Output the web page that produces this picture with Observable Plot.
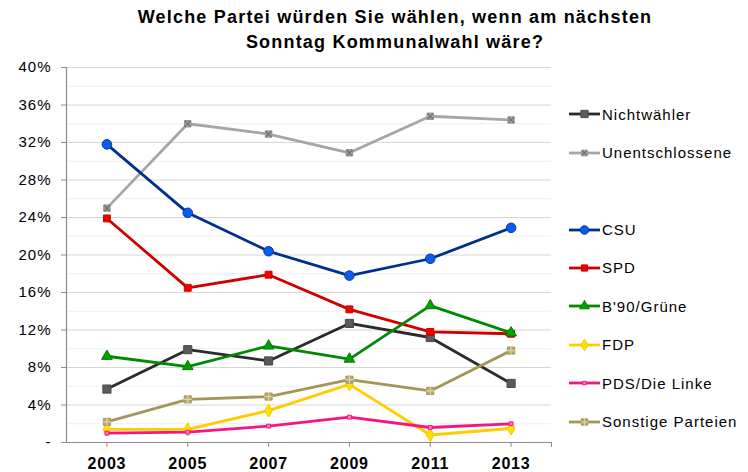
<!DOCTYPE html>
<html><head><meta charset="utf-8">
<script src="https://cdn.jsdelivr.net/npm/d3@7"></script>
<script src="https://cdn.jsdelivr.net/npm/@observablehq/plot@0.6"></script>
<style>
body{margin:0;background:#fff;font-family:"Liberation Sans",Arial,sans-serif;}
#wrap{position:relative;width:748px;height:472px;overflow:hidden;}
#title{height:58px;box-sizing:border-box;padding-left:42px;padding-top:5px;text-align:center;font-weight:bold;font-size:18px;letter-spacing:1.2px;line-height:25px;color:#000;}
#legend{position:absolute;left:569px;top:0;}
.item{position:absolute;left:0;height:20px;display:flex;align-items:center;font-size:15px;letter-spacing:1px;white-space:nowrap;color:#000;}
.item svg{display:block;margin-right:0px;}
g[aria-label="y-axis tick label"] text{letter-spacing:1px;}
g[aria-label="x-axis tick label"] text{letter-spacing:0.8px;}
</style></head><body>
<div id="wrap">
<div id="title">Welche Partei würden Sie wählen, wenn am nächsten<br>Sonntag Kommunalwahl wäre?</div>
<div id="chart"></div>
<div id="legend"></div>
</div>
<script>
// ---- data ----
const years = [2003, 2005, 2007, 2009, 2011, 2013];
const series = ["Nichtwähler", "Unentschlossene", "CSU", "SPD", "B'90/Grüne", "FDP", "PDS/Die Linke", "Sonstige Parteien"];
const nichtwaehler = [5.7, 9.9, 8.7, 12.7, 11.2, 6.3];
const unentschlossene = [25.0, 34.0, 32.9, 30.9, 34.8, 34.4];
const csu = [31.8, 24.5, 20.4, 17.8, 19.6, 22.9];
const spd = [23.9, 16.5, 17.9, 14.2, 11.8, 11.6];
const gruene = [9.2, 8.1, 10.3, 8.9, 14.6, 11.7];
const fdp = [1.4, 1.4, 3.4, 6.2, 0.8, 1.5];
const pds = [1.0, 1.1, 1.75, 2.7, 1.6, 2.0];
const sonstige = [2.2, 4.6, 4.9, 6.7, 5.5, 9.8];
const yTicks = [0, 4, 8, 12, 16, 20, 24, 28, 32, 36, 40];
const yMinor = [2, 6, 10, 14, 18, 22, 26, 30, 34, 38];
const yTickLabels = ["-", "4%", "8%", "12%", "16%", "20%", "24%", "28%", "32%", "36%", "40%"];

const values = [nichtwaehler, unentschlossene, csu, spd, gruene, fdp, pds, sonstige];

// ---- styles ----
const styles = [
  {line: "#2b2b2b", symbol: "square", r: 4.6, fill: "#5a5a5a", stroke: "#4a4a4a"},
  {line: "#a6a6a6", symbol: "square", r: 3.6, fill: "#a8a89c", stroke: "#959590", over: "times", overStroke: "#6e6e66"},
  {line: "#00308f", symbol: "circle", r: 4.8, fill: "#0a5cf0", stroke: "#0a3aa0"},
  {line: "#d00000", symbol: "square", r: 3.9, fill: "#f00000", stroke: "#d00000"},
  {line: "#008a00", symbol: "triangle", r: 4.0, fill: "#00a000", stroke: "#008000"},
  {line: "#ffcc00", symbol: "diamond", r: 4.0, fill: "#ffe100", stroke: "#f5c800"},
  {line: "#f5157f", symbol: "square", r: 2.2, fill: "#ff7fbf", stroke: "#f5157f"},
  {line: "#a39659", symbol: "square", r: 4.0, fill: "#b5a872", stroke: "#a39659", over: "plus", overStroke: "#ddd3a5"}
];
const legendSlots = [0, 1, 3, 4, 5, 6, 7, 8];

const rows = series.map((s, i) => years.map((y, j) => ({party: s, year: y, value: values[i][j]})));

const seriesMarks = [];
rows.forEach((data, i) => {
  const st = styles[i];
  seriesMarks.push(Plot.line(data, {x: "year", y: "value", stroke: st.line, strokeWidth: 2.8, strokeLinejoin: "round"}));
  seriesMarks.push(Plot.dot(data, {x: "year", y: "value", symbol: st.symbol, r: st.r, fill: st.fill, stroke: st.stroke, strokeWidth: 1}));
  if (st.over) seriesMarks.push(Plot.dot(data, {x: "year", y: "value", symbol: st.over, r: st.r * 0.75, stroke: st.overStroke, strokeWidth: 1.2}));
});

const chart = Plot.plot({
  width: 748, height: 414,
  marginLeft: 66, marginRight: 197, marginTop: 9, marginBottom: 30,
  x: {domain: [2002, 2014]},
  y: {domain: [0, 40]},
  style: {fontFamily: "'Liberation Sans', Arial, sans-serif", background: "white", overflow: "visible"},
  marks: [
    Plot.ruleY(yMinor, {stroke: "#efefef", strokeWidth: 1}),
    Plot.ruleY(yTicks.slice(1), {stroke: "#d6d6d6", strokeWidth: 1}),
    Plot.axisY({ticks: yTicks, tickFormat: d => yTickLabels[yTicks.indexOf(d)], tickSize: 5, tickPadding: 10, stroke: "#8c8c8c", fill: "#000", fontSize: 15, label: null}),
    Plot.axisX({ticks: years, tickFormat: d => String(d), tickSize: 5, tickPadding: 10, stroke: "#8c8c8c", fill: "#000", fontSize: 16, fontWeight: "bold", label: null}),
    Plot.axisX({ticks: [2014], tickFormat: () => "", tickSize: 5, stroke: "#8c8c8c", label: null}),
    Plot.frame({anchor: "left", stroke: "#8c8c8c", strokeWidth: 1.2}),
    Plot.frame({anchor: "bottom", stroke: "#8c8c8c", strokeWidth: 1.2}),
    ...seriesMarks
  ]
});
document.getElementById("chart").appendChild(chart);

// ---- legend ----
const legend = document.getElementById("legend");
series.forEach((s, i) => {
  const st = styles[i];
  const cy = 114.3 + legendSlots[i] * 38.4;
  const item = document.createElement("div");
  item.className = "item";
  item.style.top = (cy - 10) + "px";
  const svg = d3.create("svg").attr("width", 33).attr("height", 20);
  svg.append("line").attr("x1", 0).attr("x2", 31).attr("y1", 10).attr("y2", 10).attr("stroke", st.line).attr("stroke-width", 2.8);
  const symMap = {square: d3.symbolSquare, circle: d3.symbolCircle, triangle: d3.symbolTriangle, diamond: d3.symbolDiamond, times: d3.symbolTimes, plus: d3.symbolCross};
  const area = Math.PI * st.r * st.r * 0.8;
  svg.append("path").attr("transform", "translate(15.5,10)").attr("d", d3.symbol(symMap[st.symbol], area)()).attr("fill", st.fill).attr("stroke", st.stroke);
  if (st.over) {
    svg.append("path").attr("transform", "translate(15.5,10)").attr("d", d3.symbol(st.over === "times" ? d3.symbolTimes : d3.symbolPlus, area * 0.5)()).attr("fill", "none").attr("stroke", st.overStroke).attr("stroke-width", 1.2);
  }
  item.appendChild(svg.node());
  const span = document.createElement("span");
  span.textContent = s;
  item.appendChild(span);
  legend.appendChild(item);
});
</script>
</body></html>
